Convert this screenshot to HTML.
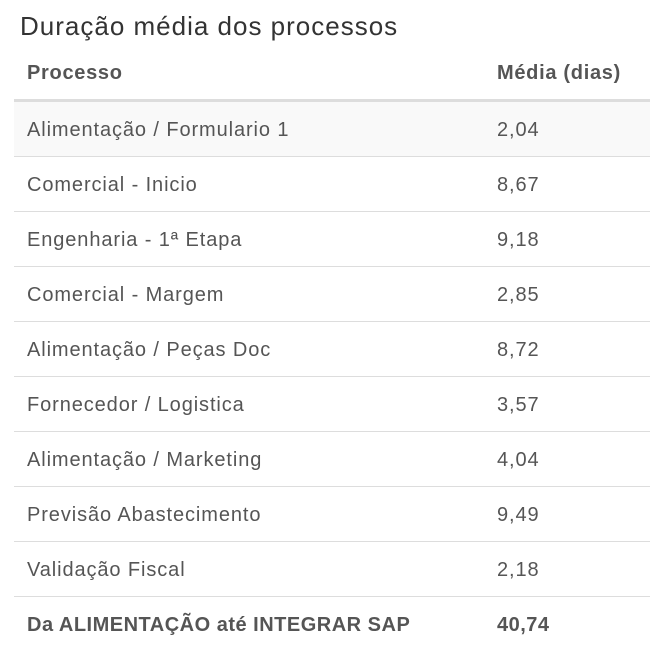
<!DOCTYPE html>
<html><head><meta charset="utf-8"><style>
html,body{margin:0;padding:0;background:#fff;width:650px;height:650px;overflow:hidden;font-family:"Liberation Sans",sans-serif;}
.title{position:absolute;left:20px;top:11px;font-size:26px;color:#333;letter-spacing:1px;}
table{position:absolute;left:14px;top:46px;width:636px;border-collapse:collapse;table-layout:fixed;}
td,th{height:52px;padding:2px 0 0 13px;font-size:20px;color:#555;text-align:left;border-top:1px solid #ddd;vertical-align:middle;letter-spacing:0.9px;}
th{font-weight:bold;color:#555;border-top:none;border-bottom:3px solid #ddd;height:51px;letter-spacing:0.7px;}
tr.s td{background:#f9f9f9;}
td:first-child,th:first-child{width:457px;}
tr.b td{font-weight:bold;letter-spacing:0.5px;}
</style></head><body>
<div class="title">Duração média dos processos</div>
<table>
<tr><th>Processo</th><th>Média (dias)</th></tr>
<tr class="s"><td>Alimentação / Formulario 1</td><td>2,04</td></tr>
<tr><td>Comercial - Inicio</td><td>8,67</td></tr>
<tr><td>Engenharia - 1ª Etapa</td><td>9,18</td></tr>
<tr><td>Comercial - Margem</td><td>2,85</td></tr>
<tr><td>Alimentação / Peças Doc</td><td>8,72</td></tr>
<tr><td>Fornecedor / Logistica</td><td>3,57</td></tr>
<tr><td>Alimentação / Marketing</td><td>4,04</td></tr>
<tr><td>Previsão Abastecimento</td><td>9,49</td></tr>
<tr><td>Validação Fiscal</td><td>2,18</td></tr>
<tr class="b"><td>Da ALIMENTAÇÃO até INTEGRAR SAP</td><td>40,74</td></tr>
</table>
</body></html>
